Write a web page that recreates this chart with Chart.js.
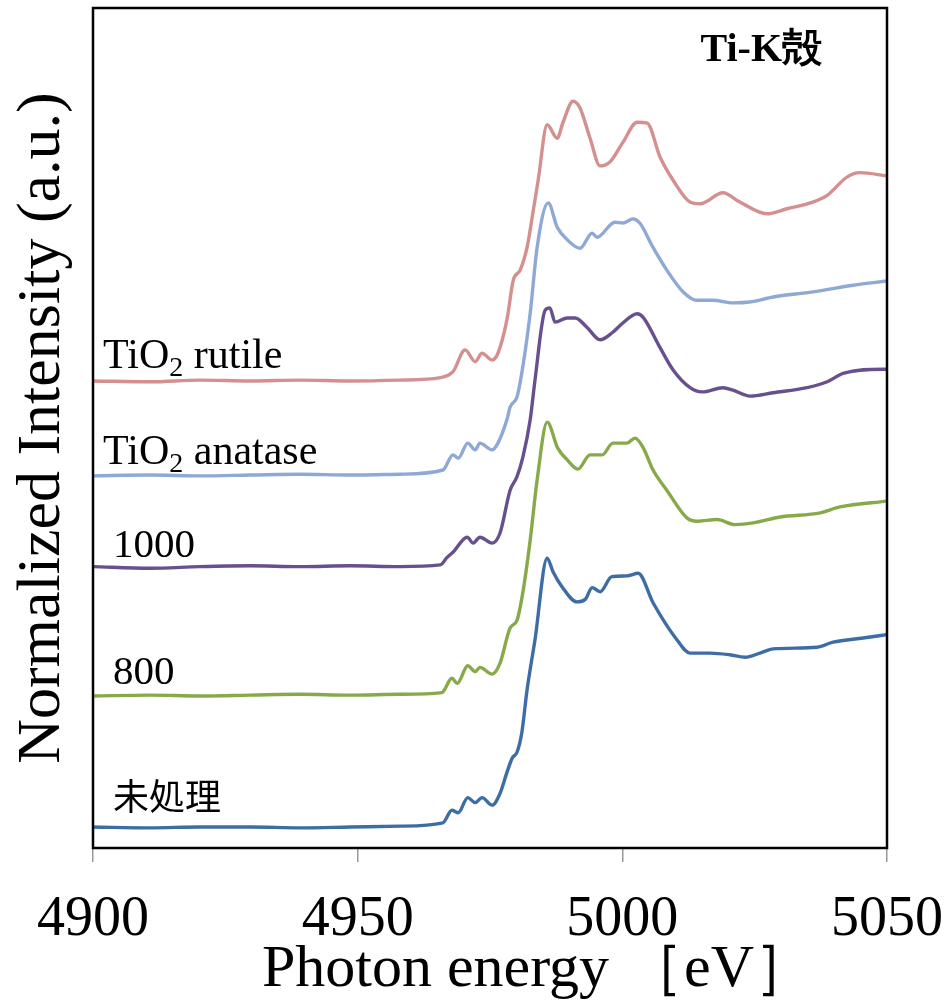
<!DOCTYPE html>
<html>
<head>
<meta charset="utf-8">
<script src="https://cdn.jsdelivr.net/npm/chart.js@4"></script>
<style>
  html, body { margin: 0; padding: 0; background: #fff; }
  #wrap { width: 949px; height: 1007px; }
</style>
</head>
<body>
<div id="wrap"><canvas id="grafico" width="949" height="1007"></canvas></div>
<script>
// photon energy (eV) and normalized intensity (a.u., offset per sample)
const rutileE = [4900, 4910.8, 4920.2, 4929.7, 4939.1, 4948.6, 4958.0, 4965.6, 4968.0, 4970.3, 4972.2, 4973.5, 4975.4, 4976.5, 4978.2, 4979.4, 4980.7, 4982.0, 4983.1, 4984.1, 4985.8, 4987.7, 4988.8, 4990.7, 4992.0, 4993.9, 4995.8, 4997.7, 5000.1, 5002.8, 5004.7, 5007.1, 5009.6, 5012.8, 5014.7, 5019.0, 5022.2, 5027.3, 5031.1, 5036.0, 5038.7, 5042.5, 5044.9, 5050];
const rutileI = [5.56, 5.55, 5.57, 5.56, 5.57, 5.56, 5.57, 5.60, 5.67, 5.93, 5.79, 5.89, 5.81, 5.89, 6.29, 6.76, 6.88, 7.15, 7.56, 7.95, 8.61, 8.45, 8.64, 8.89, 8.81, 8.45, 8.12, 8.17, 8.40, 8.64, 8.63, 8.23, 7.95, 7.69, 7.67, 7.80, 7.69, 7.55, 7.61, 7.69, 7.77, 7.99, 8.04, 8.00];

const anataseE = [4900, 4910.8, 4920.2, 4929.7, 4939.1, 4948.6, 4958.0, 4966.1, 4968.0, 4969.0, 4970.8, 4972.2, 4973.1, 4975.4, 4976.5, 4978.2, 4978.8, 4980.1, 4981.2, 4982.6, 4983.9, 4986.0, 4987.7, 4989.6, 4992.0, 4994.3, 4995.2, 4998.6, 5000.1, 5002.0, 5003.3, 5005.8, 5008.4, 5011.5, 5014.1, 5017.1, 5020.9, 5024.1, 5028.5, 5036.0, 5043.6, 5050];
const anataseI = [4.43, 4.44, 4.43, 4.44, 4.45, 4.44, 4.45, 4.50, 4.68, 4.64, 4.82, 4.74, 4.82, 4.74, 4.82, 5.10, 5.25, 5.37, 5.73, 6.37, 7.15, 7.68, 7.39, 7.24, 7.14, 7.32, 7.27, 7.45, 7.44, 7.49, 7.44, 7.15, 6.88, 6.62, 6.52, 6.52, 6.49, 6.50, 6.56, 6.62, 6.70, 6.75];

const s1000E = [4900, 4910.8, 4920.2, 4929.7, 4939.1, 4948.6, 4958.0, 4965.6, 4966.9, 4968.0, 4970.7, 4971.8, 4973.1, 4975.4, 4976.9, 4978.8, 4980.1, 4981.2, 4982.6, 4983.5, 4985.4, 4986.3, 4987.3, 4989.6, 4991.1, 4993.3, 4995.8, 4998.2, 5000.1, 5002.8, 5003.9, 5007.1, 5009.6, 5012.8, 5015.1, 5019.0, 5020.9, 5024.1, 5028.5, 5034.9, 5038.7, 5041.7, 5049.3, 5050];
const s1000I = [3.35, 3.33, 3.35, 3.36, 3.35, 3.36, 3.35, 3.37, 3.46, 3.52, 3.70, 3.63, 3.70, 3.63, 3.75, 4.26, 4.42, 4.65, 5.10, 5.57, 6.40, 6.43, 6.26, 6.31, 6.31, 6.20, 6.05, 6.14, 6.25, 6.36, 6.32, 5.96, 5.69, 5.48, 5.43, 5.48, 5.45, 5.38, 5.42, 5.48, 5.55, 5.65, 5.70, 5.70];

const s800E = [4900, 4910.8, 4920.2, 4929.7, 4939.1, 4948.6, 4958.0, 4965.9, 4967.8, 4968.8, 4970.8, 4972.2, 4973.1, 4975.4, 4976.9, 4978.8, 4980.1, 4981.2, 4982.6, 4983.9, 4985.8, 4987.8, 4989.6, 4991.6, 4993.9, 4996.2, 4998.2, 5000.9, 5002.4, 5003.9, 5005.8, 5008.4, 5012.2, 5014.1, 5017.9, 5021.3, 5024.7, 5029.8, 5037.4, 5041.1, 5050];
const s800I = [1.81, 1.82, 1.81, 1.82, 1.83, 1.82, 1.83, 1.85, 2.02, 1.96, 2.17, 2.10, 2.15, 2.07, 2.20, 2.62, 2.71, 3.04, 3.67, 4.38, 5.07, 4.76, 4.62, 4.51, 4.68, 4.68, 4.82, 4.82, 4.88, 4.77, 4.50, 4.26, 3.93, 3.89, 3.91, 3.85, 3.87, 3.94, 3.99, 4.06, 4.13];

const rawE = [4900, 4910.8, 4920.2, 4929.7, 4939.1, 4948.6, 4958.0, 4966.1, 4967.8, 4969.0, 4970.8, 4972.2, 4973.5, 4975.4, 4976.9, 4978.2, 4979.2, 4980.1, 4981.0, 4982.0, 4983.5, 4985.8, 4986.9, 4988.6, 4991.4, 4993.0, 4994.3, 4995.8, 4998.0, 5000.9, 5003.0, 5005.8, 5010.3, 5012.8, 5016.6, 5020.3, 5023.2, 5026.0, 5028.5, 5036.8, 5039.8, 5045.5, 5050];
const rawI = [0.25, 0.24, 0.25, 0.25, 0.24, 0.25, 0.26, 0.30, 0.45, 0.42, 0.60, 0.54, 0.60, 0.51, 0.65, 0.90, 1.07, 1.14, 1.37, 1.88, 2.48, 3.45, 3.29, 3.11, 2.93, 2.96, 3.10, 3.05, 3.23, 3.24, 3.27, 2.92, 2.48, 2.32, 2.32, 2.30, 2.27, 2.32, 2.37, 2.39, 2.45, 2.50, 2.54];

const xTicks = [4900, 4950, 5000, 5050];
const seriesNames = ["TiO2 rutile", "TiO2 anatase", "1000", "800", "未処理"];
const seriesColors = ["#D4908E", "#8EA9D5", "#684F8E", "#88A94A", "#3E6DA6"];

const serif = "'Liberation Serif', 'DejaVu Serif', serif";

function pontos(es, is) {
  return es.map((e, i) => ({ x: e, y: is[i] }));
}

const series = [
  pontos(rutileE, rutileI),
  pontos(anataseE, anataseI),
  pontos(s1000E, s1000I),
  pontos(s800E, s800I),
  pontos(rawE, rawI)
];

// label offsets above each curve's baseline (px)
const labelLift = [13, 12, 10, 12, 17];

const moldura = {
  id: "moldura",
  afterDatasetsDraw(chart) {
    const { ctx, chartArea: a } = chart;
    ctx.save();
    ctx.strokeStyle = "#000";
    ctx.lineWidth = 2.5;
    ctx.strokeRect(a.left, a.top, a.right - a.left, a.bottom - a.top);

    const xs = chart.scales.x, ys = chart.scales.y;
    ctx.fillStyle = "#000";
    ctx.textBaseline = "alphabetic";
    series.forEach((pts, i) => {
      const name = seriesNames[i];
      const y = ys.getPixelForValue(pts[0].y) - labelLift[i];
      let x = xs.getPixelForValue(name.startsWith("TiO2") ? 4901.9 : 4903.8);
      if (name.startsWith("TiO2")) {
        ctx.font = "42px " + serif;
        ctx.fillText("TiO", x, y);
        x += ctx.measureText("TiO").width;
        ctx.font = "28px " + serif;
        ctx.fillText("2", x, y + 8);
        x += ctx.measureText("2").width;
        ctx.font = "42px " + serif;
        ctx.fillText(" " + name.slice(5), x, y);
      } else if (/^\d/.test(name)) {
        ctx.font = "41px " + serif;
        ctx.fillText(name, x, y);
      } else {
        ctx.font = "36px 'Noto Sans CJK JP', sans-serif";
        ctx.fillText(name, x, y);
      }
    });

    ctx.font = "bold 40px " + serif;
    ctx.textAlign = "right";
    ctx.fillText("Ti-K殻", a.right - 65, a.top + 53);

    // x-axis title
    ctx.font = "60px " + serif;
    ctx.textAlign = "center";
    ctx.textBaseline = "middle";
    ctx.fillText("Photon energy ［eV］", 538, a.bottom + 122);
    ctx.restore();
  }
};

const ctx = document.getElementById("grafico").getContext("2d");
new Chart(ctx, {
  type: "line",
  data: {
    datasets: series.map((pts, i) => ({
      label: seriesNames[i],
      data: pts,
      borderColor: seriesColors[i],
      backgroundColor: seriesColors[i],
      borderWidth: 3.4,
      pointRadius: 0,
      fill: false,
      cubicInterpolationMode: "monotone"
    }))
  },
  options: {
    responsive: false,
    animation: false,
    layout: { padding: { top: 8, right: 62, left: 0, bottom: 0 } },
    plugins: { legend: { display: false }, tooltip: { enabled: false } },
    scales: {
      x: {
        type: "linear",
        min: 4900,
        max: 5050,
        afterBuildTicks: s => { s.ticks = xTicks.map(v => ({ value: v })); },
        afterFit: s => { s.height = 159; s.paddingLeft = 0; s.paddingRight = 0; },
        grid: { display: true, drawOnChartArea: false, drawTicks: true, tickLength: 14, color: "#999", lineWidth: 1.5 },
        border: { display: false },
        ticks: {
          color: "#000",
          font: { family: serif, size: 56 },
          padding: 25,
          maxRotation: 0,
          callback: v => String(v)
        }
      },
      y: {
        min: 0,
        max: 10,
        afterFit: s => { s.width = 93; },
        grid: { display: false },
        border: { display: false },
        ticks: { display: false },
        title: {
          display: true,
          text: "Normalized Intensity (a.u.)",
          color: "#000",
          font: { family: serif, size: 62 },
          padding: { top: 6, bottom: 0 }
        }
      }
    }
  },
  plugins: [moldura]
});
</script>
</body>
</html>
